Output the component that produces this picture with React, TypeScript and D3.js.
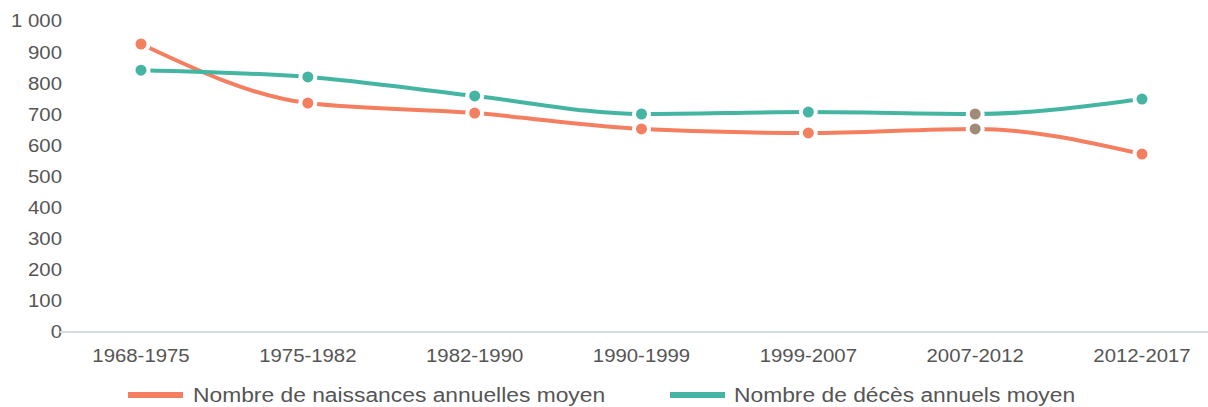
import React, { useEffect, useRef } from 'react';
import * as d3 from 'd3';

const periods = ['1968-1975', '1975-1982', '1982-1990', '1990-1999', '1999-2007', '2007-2012', '2012-2017'];
const naissances = [926, 736, 704, 653, 640, 653, 572];
const deces = [842, 820, 759, 701, 707, 701, 749];
const yTicks = [0, 100, 200, 300, 400, 500, 600, 700, 800, 900, 1000];

const width = 1208;
const height = 407;
const orange = '#f47f60';
const teal = '#45b5a3';
const font = '"Liberation Sans", Arial, sans-serif';

const App = () => {
  const svgRef = useRef<SVGSVGElement>(null);

  useEffect(() => {
    const svg = d3.select(svgRef.current);
    svg.selectAll('*').remove();

    const x = d3.scalePoint<string>().domain(periods).range([141, 1142]);
    const y = d3.scaleLinear().domain([0, 1000]).range([332, 21]);

    // Y labels (text is a bit wider than Arial in the source, hence the x-stretch)
    svg.append('g')
      .selectAll('text')
      .data(yTicks)
      .join('text')
      .attr('transform', d => `translate(62,${y(d)}) scale(1.1,1)`)
      .attr('dy', '0.35em')
      .attr('text-anchor', 'end')
      .attr('font-family', font)
      .attr('font-size', 18.5)
      .attr('fill', '#555')
      .text(d => d3.format(',')(d).replace(',', ' '));

    // baseline
    svg.append('line')
      .attr('x1', 60).attr('x2', width)
      .attr('y1', y(0)).attr('y2', y(0))
      .attr('stroke', '#d5dbe2').attr('stroke-width', 2);

    // X labels
    svg.append('g')
      .selectAll('text')
      .data(periods)
      .join('text')
      .attr('transform', d => `translate(${x(d)},362) scale(1.1,1)`)
      .attr('text-anchor', 'middle')
      .attr('font-family', font)
      .attr('font-size', 18.5)
      .attr('fill', '#555')
      .text(d => d);

    const series = [
      { name: 'Nombre de naissances annuelles moyen', values: naissances, color: orange },
      { name: 'Nombre de décès annuels moyen', values: deces, color: teal },
    ];

    const line = d3.line<number>()
      .x((_, i) => x(periods[i])!)
      .y(d => y(d))
      .curve(d3.curveMonotoneX);

    series.forEach(s => {
      svg.append('path')
        .attr('d', line(s.values))
        .attr('fill', 'none')
        .attr('stroke', s.color)
        .attr('stroke-width', 4)
        .attr('stroke-linecap', 'round');
    });

    // white halos around points
    series.forEach(s => {
      svg.append('g')
        .selectAll('circle')
        .data(s.values)
        .join('circle')
        .attr('cx', (_, i) => x(periods[i])!)
        .attr('cy', d => y(d))
        .attr('r', 9.5)
        .attr('fill', 'white');
    });

    series.forEach(s => {
      svg.append('g')
        .selectAll('circle')
        .data(s.values)
        .join('circle')
        .attr('cx', (_, i) => x(periods[i])!)
        .attr('cy', d => y(d))
        .attr('r', 5.5)
        .attr('fill', (_, i) => (i === 5 ? '#a08b78' : s.color));
    });

    // legend
    const legendX = [128, 670];
    series.forEach((s, i) => {
      const g = svg.append('g').attr('transform', `translate(${legendX[i]},395)`);
      g.append('rect')
        .attr('x', 0).attr('y', -3)
        .attr('width', 55).attr('height', 6)
        .attr('fill', s.color);
      g.append('text')
        .attr('transform', `translate(${i === 0 ? 65 : 64},0) scale(1.17,1)`)
        .attr('dy', '0.35em')
        .attr('font-family', font)
        .attr('font-size', 19.5)
        .attr('fill', '#555')
        .text(s.name);
    });
  }, []);

  return (
    <svg ref={svgRef} width={width} height={height}
      style={{ position: 'absolute', left: 0, top: 0, background: 'white' }} />
  );
};

export default App;
